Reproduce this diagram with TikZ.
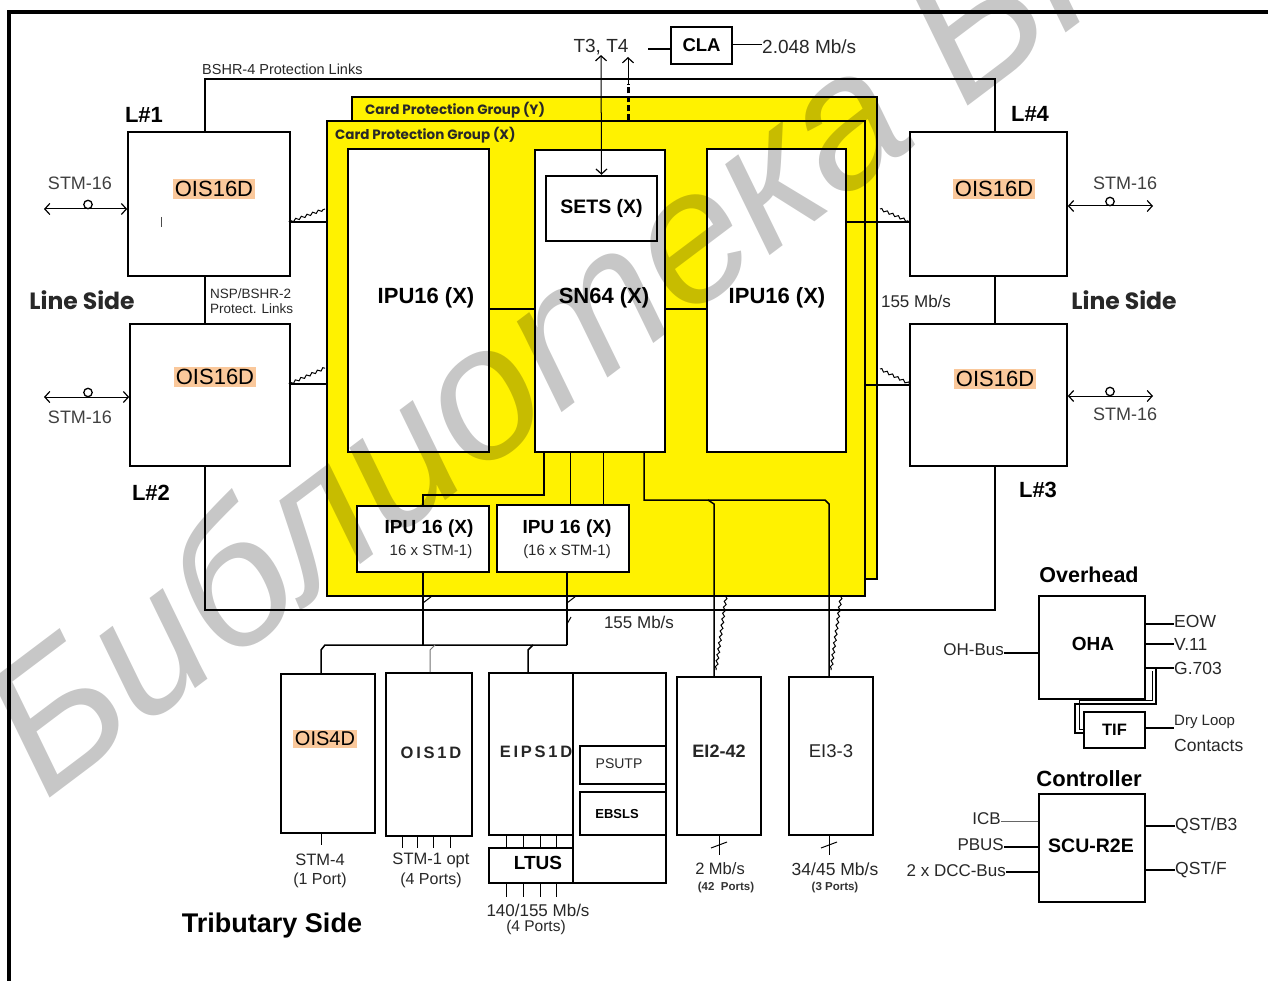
\documentclass[tikz,border=0pt]{standalone}
\usepackage{fontspec}
\setmainfont{Liberation Sans}
\newfontfamily\geo{Poppins}
\newfontfamily\wmfont{Liberation Sans}
\usetikzlibrary{fit,arrows.meta,decorations.pathmorphing}
\newcommand\fsz[1]{\fontsize{#1}{#1}\selectfont}
\definecolor{hlc}{RGB}{250,200,155}
\definecolor{txt}{RGB}{40,40,40}
\begin{document}
\begin{tikzpicture}[x=1pt,y=-1pt,
 box/.style={draw=black,line width=1.6pt,fill=white,inner sep=0pt},
 ybox/.style={draw=black,line width=1.4pt,fill=yellow,inner sep=0pt},
 ln/.style={line width=1.5pt},
 tn/.style={line width=1pt},
 lbl/.style={inner sep=0pt,text=txt},
 bl/.style={inner sep=0pt,font=\bfseries,text=black},
 hlbox/.style={fill=hlc,inner sep=2pt,font=\fsz{22},text=black},
 barb/.style={-{Straight Barb[length=5pt,width=11pt,line width=1.2pt]}},
 dbarb/.style={{Straight Barb[length=5pt,width=11pt,line width=1.2pt]}-{Straight Barb[length=5pt,width=11pt,line width=1.2pt]}},
 jag/.style={decorate,decoration={zigzag,amplitude=1.2pt,segment length=6pt}},
]
\useasboundingbox (0,0) rectangle (1268,981);
\fill[white] (0,0) rectangle (1268,981);

% frame
\draw[line width=4pt] (9,981) -- (9,12) -- (1268,12);

% protection link loop
\draw[ln] (205,79) rectangle (995,610);
\node[lbl,anchor=west,font=\fsz{14.5}] (bshr) at (202,69) {BSHR-4 Protection Links};

% card protection groups
\node[ybox,fit={(352,97)(877,579)}] (cpgY) {};
\node[ybox,fit={(327,121)(865,596)}] (cpgX) {};
\node[lbl,anchor=west,font=\geo\bfseries\fsz{13.5}] (labY) at (365,110) {Card Protection Group (Y)};
\node[lbl,anchor=west,font=\geo\bfseries\fsz{13.5}] (labX) at (335,135) {Card Protection Group (X)};

% inner boxes
\node[box,fit={(348,149)(489,452)}] (ipuL) {};
\node[box,fit={(535,150)(665,452)}] (sn) {};
\node[box,fit={(707,149)(846,452)}] (ipuR) {};
\node[bl,font=\bfseries\fsz{22}] at (426,298) {IPU16 (X)};
\node[bl,font=\bfseries\fsz{22}] at (604,298) {SN64 (X)};
\node[bl,font=\bfseries\fsz{22}] at (777,298) {IPU16 (X)};
\node[box,line width=2.4pt,fit={(546,176)(657,241)}] (sets) {};
\node[bl,font=\bfseries\fsz{19.5}] at (sets) {SETS (X)};
\draw[ln] (ipuL.east |- 0,309) -- (sn.west |- 0,309);
\draw[ln] (sn.east |- 0,309) -- (ipuR.west |- 0,309);

% T3 T4 and CLA
\node[lbl,font=\fsz{19}] (t34) at (601,47) {T3, T4};
\draw[tn,dbarb] (sets.north) -- (t34.south);
\draw[line width=3pt,dash pattern=on 6pt off 3pt] (cpgX.north -| 628,0) -- (628,84);
\draw[tn,barb] (628,84) -- (628,57);
\node[box,line width=1.3pt,fit={(671,27)(732,64)}] (cla) {};
\node[bl,font=\bfseries\fsz{18.5}] at (cla) {CLA};
\draw[ln] (648,49) -- (cla.west |- 0,49);
\node[lbl,anchor=west,font=\fsz{19}] (mbs2) at (762,47) {2.048 Mb/s};
\draw[tn] (cla.east |- 0,45) -- (mbs2.west |- 0,45);

% line cards
\node[box,fit={(128,132)(290,276)}] (L1) {};
\node[box,fit={(130,324)(290,466)}] (L2) {};
\node[box,fit={(910,132)(1067,276)}] (L4) {};
\node[box,fit={(910,324)(1067,466)}] (L3) {};
\node[hlbox] at (214,189) {OIS16D};
\node[hlbox] at (215,377) {OIS16D};
\node[hlbox] at (994,189) {OIS16D};
\node[hlbox] at (995,379) {OIS16D};
\draw[line width=0.8pt,black!70] (161,217) -- (161,227);
\node[bl,font=\bfseries\fsz{22}] at (144,115) {L\#1};
\node[bl,font=\bfseries\fsz{22}] at (151,493) {L\#2};
\node[bl,font=\bfseries\fsz{22}] at (1038,490) {L\#3};
\node[bl,font=\bfseries\fsz{22}] at (1030,114) {L\#4};
\node[lbl,font=\geo\bfseries\fsz{23.5}] at (82,300) {Line Side};
\node[lbl,font=\geo\bfseries\fsz{23.5}] at (1124,300) {Line Side};
\node[lbl,anchor=west,font=\fsz{13.5}] at (210,294) {NSP/BSHR-2};
\node[lbl,anchor=west,font=\fsz{13.5}] at (210,309) {Protect. Links};
\node[lbl,font=\fsz{17}] at (916,301) {155 Mb/s};

% line card to yellow
\draw[ln] (L1.east |- 0,222) -- (cpgX.west |- 0,222);
\draw[tn,jag] (289,222) -- (325,209);
\draw[ln] (L2.east |- 0,384) -- (cpgX.west |- 0,384);
\draw[tn,jag] (289,384) -- (325,368);
\draw[ln] (ipuR.east |- 0,222) -- (L4.west |- 0,222);
\draw[tn,jag] (880,209) -- (910,222);
\draw[ln] (cpgX.east |- 0,385) -- (L3.west |- 0,385);
\draw[tn,jag] (880,369) -- (910,384);

% STM-16 optical links
\coordinate (o1) at (44,209);
\coordinate (o2) at (44,397);
\coordinate (o4) at (1153,206);
\coordinate (o3) at (1153,396);
\draw[tn,dbarb] (o1) -- (L1.west |- o1);
\draw[tn,dbarb] (o2) -- (L2.west |- o2);
\draw[tn,dbarb] (L4.east |- o4) -- (o4);
\draw[tn,dbarb] (L3.east |- o3) -- (o3);
\draw[line width=1.3pt] (88,204.5) circle (4.2);
\draw[line width=1.3pt] (88,392.5) circle (4.2);
\draw[line width=1.3pt] (1110,201.5) circle (4.2);
\draw[line width=1.3pt] (1110,391.5) circle (4.2);
\node[lbl,font=\fsz{18},text=black!75] at (80,183) {STM-16};
\node[lbl,font=\fsz{18},text=black!75] at (80,417) {STM-16};
\node[lbl,font=\fsz{18},text=black!75] at (1125,183) {STM-16};
\node[lbl,font=\fsz{18},text=black!75] at (1125,414) {STM-16};

% small IPU boxes
\node[box,fit={(357,506)(489,572)}] (ipus1) {};
\node[box,fit={(497,505)(629,572)}] (ipus2) {};
\node[bl,font=\bfseries\fsz{19}] at (429,529) {IPU 16 (X)};
\node[lbl,font=\fsz{15}] at (431,552) {16 x STM-1)};
\node[bl,font=\bfseries\fsz{19}] at (567,529) {IPU 16 (X)};
\node[lbl,font=\fsz{15}] at (567,552) {(16 x STM-1)};
\draw[ln] (sn.south -| 544,0) -- (544,495) -- (423,495) -- (ipus1.north -| 423,0);
\draw[tn] (sn.south -| 570,0) -- (ipus2.north -| 570,0);
\draw[tn] (sn.south -| 603,0) -- (ipus2.north -| 603,0);

% bottom cards
\node[box,fit={(281,674)(375,833)}] (ois4) {};
\node[box,fit={(386,673)(472,836)}] (ois1) {};
\node[box,fit={(573,673)(666,883)}] (pwr) {};
\node[box,fit={(489,673)(573,835)}] (eips) {};
\node[box,fit={(580,746)(666,784)}] (psutp) {};
\node[box,fit={(580,792)(666,835)}] (ebsls) {};
\node[box,fit={(489,848)(573,883)}] (ltus) {};
\node[box,fit={(677,677)(761,835)}] (e12) {};
\node[box,fit={(789,677)(873,835)}] (e13) {};
\node[hlbox,font=\fsz{20}] at (325,739) {OIS4D};
\node[bl,font=\bfseries\fsz{16.5},text=black!85] at (431,753) {O\,I\,S\,1\,D};
\node[bl,font=\bfseries\fsz{16.5},text=black!85] at (536,752) {E\,I\,P\,S\,1\,D};
\node[lbl,font=\fsz{14}] at (619,764) {PSUTP};
\node[bl,font=\bfseries\fsz{13}] at (617,814) {EBSLS};
\node[bl,font=\bfseries\fsz{19}] at (538,863) {LTUS};
\node[bl,font=\bfseries\fsz{18},text=black!85] at (719,751) {EI2-42};
\node[bl,font=\fsz{18.5},text=black!85] at (831,751) {EI3-3};

% bus from IPU16 small boxes
\draw[ln] (ipus1.south -| 423,0) -- (423,645);
\draw[tn] (423,603) -- (432,596);
\draw[ln] (ipus2.south -| 567,0) -- (567,645);
\draw[tn] (567,603) -- (576,596);
\draw[tn] (567,624) -- (571,617);
\draw[ln] (ois4.north -| 321,0) -- (321,650) -- (325,645) -- (567,645);
\draw[tn,black!55] (ois1.north -| 430,0) -- (430,650) -- (435,645);
\draw[ln] (eips.north -| 528,0) -- (528,650) -- (533,645);
\node[lbl,font=\fsz{17}] at (639,622) {155 Mb/s};

% bus to EI cards
\draw[ln] (sn.south -| 644,0) -- (644,500) -- (825,500) -- (829,504) -- (e13.north -| 829,0);
\draw[ln] (708,500) -- (714,504) -- (e12.north -| 714,0);
\draw[tn,jag] (726,597) -- (716,670);
\draw[tn,jag] (841,597) -- (831,670);

% ports under cards
\draw[tn] (ois4.south -| 321,0) -- (321,845);
\foreach \x in {402,417,433,450} \draw[tn] (ois1.south -| \x,0) -- (\x,848);
\foreach \x in {506,523,540,556} {
  \draw[tn] (eips.south -| \x,0) -- (ltus.north -| \x,0);
  \draw[tn] (ltus.south -| \x,0) -- (\x,897);
}
\draw[tn] (e12.south -| 719,0) -- (719,855);
\draw[tn] (711,848) -- (727,842);
\draw[tn] (e13.south -| 829,0) -- (829,855);
\draw[tn] (821,848) -- (837,842);
\node[lbl,font=\fsz{16.5}] at (320,860) {STM-4};
\node[lbl,font=\fsz{16}] at (320,880) {(1 Port)};
\node[lbl,font=\fsz{16.5}] at (431,860) {STM-1 opt};
\node[lbl,font=\fsz{16}] at (431,880) {(4 Ports)};
\node[lbl,font=\fsz{17}] at (538,910) {140/155 Mb/s};
\node[lbl,font=\fsz{15.5}] at (536,927) {(4 Ports)};
\node[lbl,font=\fsz{16.5}] at (720,869) {2 Mb/s};
\node[bl,font=\bfseries\fsz{11.5},text=black!80] at (726,888) {(42\ \ Ports)};
\node[lbl,font=\fsz{17.5}] at (835,869) {34/45 Mb/s};
\node[bl,font=\bfseries\fsz{11.5},text=black!80] at (835,888) {(3 Ports)};
\node[bl,font=\bfseries\fsz{27}] at (272,926) {Tributary Side};

% overhead
\node[bl,font=\bfseries\fsz{21.5}] at (1089,575) {Overhead};
\node[box,fit={(1039,596)(1145,699)}] (oha) {};
\node[bl,font=\bfseries\fsz{19}] at (1093,644) {OHA};
\node[lbl,anchor=east,font=\fsz{17}] (ohbus) at (1004,650) {OH-Bus};
\draw[ln] (ohbus.east |- 0,653) -- (oha.west |- 0,653);
\node[lbl,anchor=west,font=\fsz{17.5}] (eow) at (1174,621) {EOW};
\node[lbl,anchor=west,font=\fsz{17.5}] (v11) at (1174,644) {V.11};
\node[lbl,anchor=west,font=\fsz{17.5}] (g703) at (1174,668) {G.703};
\draw[ln] (oha.east |- 0,624) -- (eow.west |- 0,624);
\draw[ln] (oha.east |- 0,644) -- (v11.west |- 0,644);
\draw[ln] (oha.east |- 0,668) -- (g703.west |- 0,668);
\node[box,fit={(1084,712)(1145,748)}] (tif) {};
\node[bl,font=\bfseries\fsz{16.5}] at (tif) {TIF};
\draw[ln] (1156,668) |- (1075,704) |- (tif.west |- 0,733);
\draw[tn] (1152,671) |- (1079,700) |- (tif.west |- 0,729);
\node[lbl,anchor=west,font=\fsz{15}] (dry) at (1174,722) {Dry Loop};
\node[lbl,anchor=west,font=\fsz{17.5}] at (1174,745) {Contacts};
\draw[ln] (tif.east |- 0,728) -- (dry.west |- 0,728);

% controller
\node[bl,font=\bfseries\fsz{22}] at (1089,779) {Controller};
\node[box,fit={(1039,794)(1145,902)}] (scu) {};
\node[bl,font=\bfseries\fsz{19.5}] at (1091,846) {SCU-R2E};
\node[lbl,anchor=east,font=\fsz{17}] (icb) at (1001,819) {ICB};
\node[lbl,anchor=east,font=\fsz{17}] (pbus) at (1004,845) {PBUS};
\node[lbl,anchor=east,font=\fsz{17}] (dcc) at (1006,871) {2 x DCC-Bus};
\draw[tn,black!60] (icb.east |- 0,821) -- (scu.west |- 0,821);
\draw[ln] (pbus.east |- 0,847) -- (scu.west |- 0,847);
\draw[ln] (dcc.east |- 0,872) -- (scu.west |- 0,872);
\node[lbl,anchor=west,font=\fsz{17.5}] (qb3) at (1175,826) {QST/B3};
\node[lbl,anchor=west,font=\fsz{17.5}] (qf) at (1175,870) {QST/F};
\draw[ln] (scu.east |- 0,826) -- (qb3.west |- 0,826);
\draw[ln] (scu.east |- 0,870) -- (qf.west |- 0,870);

% watermark
\node[rotate=37,anchor=base west,inner sep=0,font=\wmfont\itshape\fsz{188},text=black,text opacity=0.22] (wm) at (45,802) {Библиотека БГУИР};
\end{tikzpicture}
\end{document}
